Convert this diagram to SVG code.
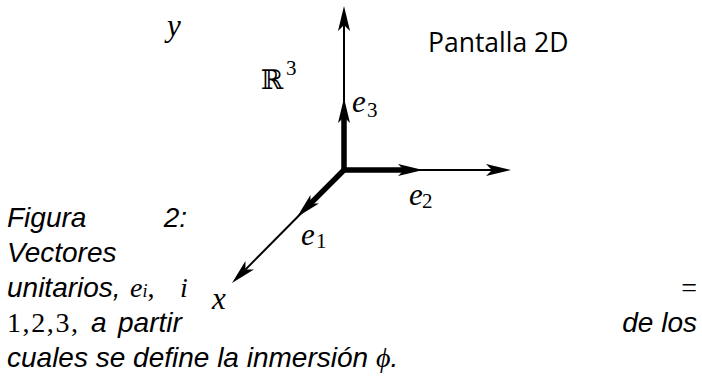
<svg xmlns="http://www.w3.org/2000/svg" width="702" height="378" viewBox="0 0 702 378">
<style>
.thin{stroke:#000;stroke-width:2;fill:none}
.thick{stroke:#000;stroke-width:5.5;fill:none;stroke-linejoin:miter}
.m{font-family:"Liberation Serif","DejaVu Serif",serif;font-style:italic;font-size:31px;fill:#000}
.sub{font-family:"Liberation Serif","DejaVu Serif",serif;font-style:normal;font-size:21px;fill:#000}
.cap{font-family:"Liberation Sans",Arial,sans-serif;font-style:italic;font-size:28px;fill:#000}
.cm{font-family:"Liberation Serif","DejaVu Serif",serif;font-style:normal}
.ci{font-family:"Liberation Serif","DejaVu Serif",serif;font-style:italic}
.lbl{font-family:"Open Sans","Noto Sans",sans-serif;font-size:26.5px;fill:#000}
</style>
<defs>
<path id="head" d="M0,0 L-25,-6 L-19,0 L-25,6 Z" fill="#000"/>
</defs>
<g id="connectors">
<line class="thin" x1="344" y1="170" x2="344" y2="24"/>
<line class="thin" x1="344" y1="170" x2="492" y2="170"/>
<line class="thin" x1="344" y1="170" x2="245.4" y2="269.6"/>
<path class="thick" d="M344,116 V170 H405"/>
<line class="thick" x1="345.5" y1="168.5" x2="310.4" y2="203.6"/>
<use href="#head" transform="translate(344,6) rotate(-90)"/>
<use href="#head" transform="translate(344,98) rotate(-90)"/>
<use href="#head" transform="translate(511,170)"/>
<use href="#head" transform="translate(423,170)"/>
<use href="#head" transform="translate(232,283) rotate(135)"/>
<use href="#head" transform="translate(297,217) rotate(135)"/>
</g>
<g id="axis-y"><text class="m" x="167" y="36">y</text></g>
<g id="space-r3"><text x="261" y="89" font-family="DejaVu Serif,serif" font-size="27">ℝ</text><text class="sub" x="286" y="75" font-size="19">3</text></g>
<g id="screen"><text class="lbl" x="428" y="52">Pantalla 2D</text></g>
<g id="vec-e3"><text class="m" x="352" y="112">e</text><text class="sub" x="367" y="117">3</text></g>
<g id="vec-e2"><text class="m" x="409" y="205">e</text><text class="sub" x="422" y="208">2</text></g>
<g id="vec-e1"><text class="m" x="301" y="245">e</text><text class="sub" x="316" y="248">1</text></g>
<g id="axis-x"><text class="m" x="212" y="309">x</text></g>
<g id="caption">
<text class="cap" x="7" y="227">Figura</text>
<text class="cap" x="187" y="227" text-anchor="end">2:</text>
<text class="cap" x="7" y="262">Vectores</text>
<text class="cap" x="7" y="297">unitarios,</text>
<text class="cap" x="130" y="297"><tspan class="ci">e</tspan><tspan class="ci" font-size="18">i</tspan><tspan class="cm">,</tspan></text>
<text class="cap ci" x="180" y="297">i</text>
<text class="cap cm" x="697" y="297" text-anchor="end">=</text>
<text class="cap cm" x="7" y="332" textLength="71" lengthAdjust="spacing">1,2,3,</text>
<text class="cap" x="91" y="332">a</text>
<text class="cap" x="118" y="332">partir</text>
<text class="cap" x="697" y="332" text-anchor="end">de  los</text>
<text class="cap" x="7" y="367">cuales se define la inmersión <tspan class="ci">ϕ</tspan>.</text>
</g>
</svg>
